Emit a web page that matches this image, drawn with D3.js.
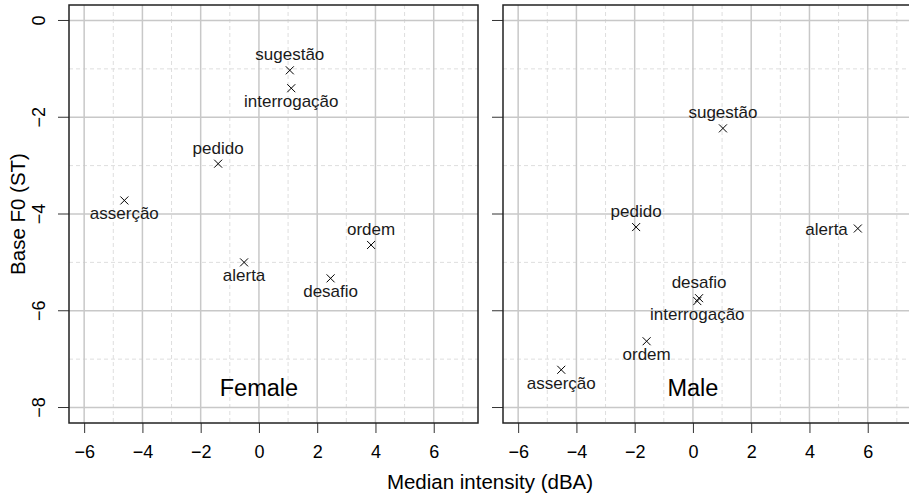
<!DOCTYPE html>
<html>
<head>
<meta charset="utf-8">
<script src="https://cdn.jsdelivr.net/npm/d3@7"></script>
<style>
  body { margin: 0; background: #fff; }
  svg { display: block; font-family: "Liberation Sans", Arial, sans-serif; }
</style>
</head>
<body>
<svg id="chart" width="909" height="497"></svg>
<script>
// data
const categories = ["asserção", "interrogação", "pedido", "sugestão", "ordem", "alerta", "desafio"];
const femaleIntensity = [-4.62, 1.11, -1.40, 1.06, 3.85, -0.51, 2.46];
const femaleF0 = [-3.72, -1.40, -2.96, -1.03, -4.64, -5.00, -5.33];
const maleIntensity = [-4.52, 0.15, -1.95, 1.03, -1.59, 5.66, 0.21];
const maleF0 = [-7.22, -5.80, -4.27, -2.23, -6.63, -4.30, -5.74];
const xTicks = [-6, -4, -2, 0, 2, 4, 6];
const yTicks = [-8, -6, -4, -2, 0];

// where each label sits relative to its point
const femaleSide = { "asserção": "below", "interrogação": "below", "pedido": "above", "sugestão": "above", "ordem": "above", "alerta": "below", "desafio": "below" };
const maleSide = { "asserção": "below", "interrogação": "below", "pedido": "above", "sugestão": "above", "ordem": "below", "alerta": "left", "desafio": "above" };

const svg = d3.select("#chart");
const plotTop = 5, plotBottom = 423, panelW = 409;
const fmt = d3.format("d");

const y = d3.scaleLinear().domain([-8.32, 0.32]).range([plotBottom, plotTop]);

function panel(left, xs, ys, sides, title, showYLabels) {
  const x = d3.scaleLinear().domain([-6.52, 7.52]).range([left, left + panelW]);
  const g = svg.append("g");
  const data = categories.map((c, i) => ({ name: c, x: xs[i], y: ys[i] }));

  // grid: dashed at odd units, solid at even
  const minorX = d3.range(-6, 8), minorY = d3.range(-8, 1);
  g.selectAll(".gxm").data(minorX.filter(v => v % 2 !== 0)).enter().append("line")
    .attr("x1", d => x(d)).attr("x2", d => x(d)).attr("y1", plotTop).attr("y2", plotBottom)
    .attr("stroke", "#dedede").attr("stroke-dasharray", "4,3");
  g.selectAll(".gym").data(minorY.filter(v => v % 2 !== 0)).enter().append("line")
    .attr("y1", d => y(d)).attr("y2", d => y(d)).attr("x1", left).attr("x2", left + panelW)
    .attr("stroke", "#dedede").attr("stroke-dasharray", "4,3");
  g.selectAll(".gx").data(xTicks).enter().append("line")
    .attr("x1", d => x(d)).attr("x2", d => x(d)).attr("y1", plotTop).attr("y2", plotBottom)
    .attr("stroke", "#c8c8c8").attr("stroke-width", 1.5);
  g.selectAll(".gy").data(yTicks).enter().append("line")
    .attr("y1", d => y(d)).attr("y2", d => y(d)).attr("x1", left).attr("x2", left + panelW)
    .attr("stroke", "#c8c8c8").attr("stroke-width", 1.5);

  // axes
  const ax = g.append("g").attr("transform", `translate(0,${plotBottom})`)
    .call(d3.axisBottom(x).tickValues(xTicks).tickFormat(fmt).tickSize(10).tickPadding(12));
  ax.select(".domain").remove();
  ax.selectAll("line").attr("stroke", "#333");
  ax.selectAll("text").attr("font-size", 18).attr("fill", "#000").attr("dy", "0.71em");

  const ay = g.append("g").attr("transform", `translate(${left},0)`)
    .call(d3.axisLeft(y).tickValues(yTicks).tickFormat(fmt).tickSize(11));
  ay.select(".domain").remove();
  ay.selectAll("line").attr("stroke", "#333");
  ay.selectAll(".tick").attr("transform", null);
  ay.selectAll(".tick line").attr("y1", d => y(d)).attr("y2", d => y(d));
  if (showYLabels) {
    ay.selectAll("text")
      .attr("font-size", 18).attr("fill", "#000")
      .attr("x", null).attr("dy", null).attr("y", null)
      .attr("text-anchor", "middle")
      .attr("transform", d => `translate(${45 - left},${y(d)}) rotate(-90)`);
  } else {
    ay.selectAll("text").remove();
  }

  // box
  g.append("rect").attr("x", left).attr("y", plotTop).attr("width", panelW).attr("height", plotBottom - plotTop)
    .attr("fill", "none").attr("stroke", "#222").attr("stroke-width", 1.5);

  // points (pch 4)
  const s = 4;
  g.selectAll(".pt").data(data).enter().append("path")
    .attr("d", d => {
      const px = x(d.x), py = y(d.y);
      return `M${px - s},${py - s}L${px + s},${py + s}M${px - s},${py + s}L${px + s},${py - s}`;
    })
    .attr("stroke", "#000").attr("stroke-width", 1).attr("fill", "none");

  g.selectAll(".lbl").data(data).enter().append("text")
    .attr("x", d => sides[d.name] === "left" ? x(d.x) - 10 : x(d.x))
    .attr("y", d => {
      const side = sides[d.name];
      if (side === "above") return y(d.y) - 10;
      if (side === "below") return y(d.y) + 19;
      return y(d.y) + 6;
    })
    .attr("text-anchor", d => sides[d.name] === "left" ? "end" : "middle")
    .attr("font-size", 17)
    .attr("fill", "#1a1a1a")
    .text(d => d.name);

  g.append("text")
    .attr("x", x(0)).attr("y", y(-7.6) + 8)
    .attr("text-anchor", "middle")
    .attr("font-size", 23.5)
    .attr("fill", "#000")
    .text(title);
}

panel(69, femaleIntensity, femaleF0, femaleSide, "Female", true);
panel(503, maleIntensity, maleF0, maleSide, "Male", false);

svg.append("text")
  .attr("x", 490).attr("y", 489)
  .attr("text-anchor", "middle")
  .attr("font-size", 20.5)
  .text("Median intensity (dBA)");

svg.append("text")
  .attr("transform", `translate(25,${(plotTop + plotBottom) / 2}) rotate(-90)`)
  .attr("text-anchor", "middle")
  .attr("font-size", 20.5)
  .text("Base F0 (ST)");
</script>
</body>
</html>
